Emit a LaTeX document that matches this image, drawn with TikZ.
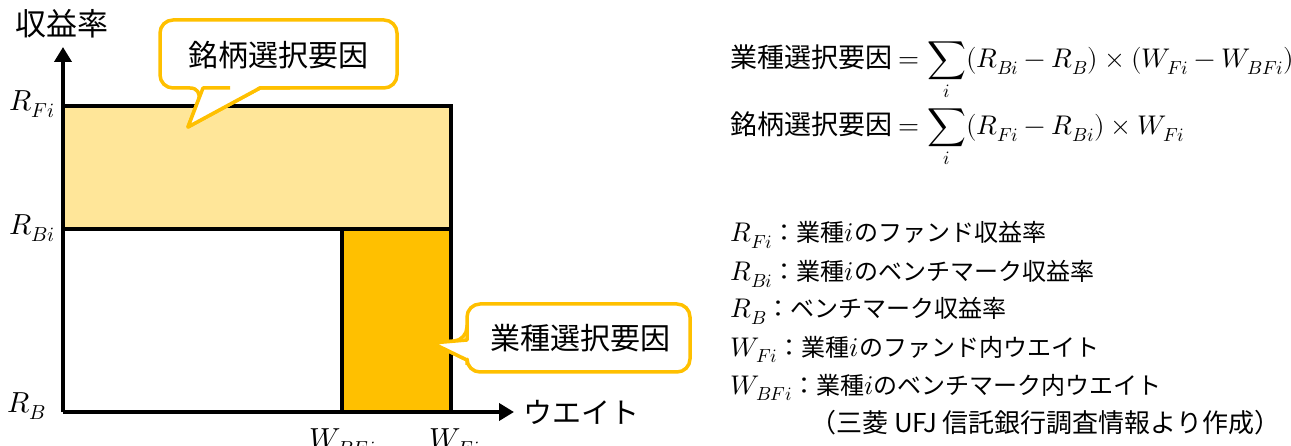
\documentclass[tikz,border=0pt]{standalone}
\usepackage{fontspec}
\usepackage{unicode-math}
\newfontfamily\jp{Noto Sans CJK JP}
\usetikzlibrary{arrows.meta}
\definecolor{gold}{HTML}{FFC000}
\definecolor{lightgold}{HTML}{FFE699}
\newcommand{\lm}[1]{{\fontsize{27}{29}\selectfont$#1$}}
\tikzset{
  thickline/.style={line width=4pt},
  axis/.style={line width=4pt,-{Triangle[length=15pt,width=17pt]}},
  callout/.style={draw=gold,line width=3.5pt,fill=white,line join=round},
  bigjp/.style={font=\jp\fontsize{30}{36}\selectfont},
  formjp/.style={font=\jp\fontsize{27}{32}\selectfont,anchor=base west},
  legjp/.style={font=\jp\fontsize{24}{29}\selectfont,anchor=base west},
  axlab/.style={font=\fontsize{29}{34}\selectfont},
}
\begin{document}
\begin{tikzpicture}[x=1pt,y=-1pt]
\useasboundingbox (0,0) rectangle (1291,446);
\clip (0,0) rectangle (1291,446);
% coordinates
\coordinate (O) at (63,412);
\coordinate (Ytop) at (63,47);
\coordinate (Xend) at (514,412);
\coordinate (TL) at (63,106);
\coordinate (TR) at (451,106);
\coordinate (ML) at (63,229);
\coordinate (MR) at (451,229);
\coordinate (MW) at (342,229);
\coordinate (BW) at (342,412);
\coordinate (BR) at (451,412);
% fills
\fill[lightgold] (TL) rectangle (MR);
\fill[gold] (MW) rectangle (BR);
% lines
\draw[thickline] (TL) -- (TR) -- (BR);
\draw[thickline] (ML) -- (MR);
\draw[thickline] (MW) -- (BW);
\draw[axis] (O) -- (Xend);
\draw[axis] (O) -- (Ytop);
% axis labels
\node[font=\jp\fontsize{31}{36}\selectfont] (ylab) at (62,24) {収益率};
\node[font=\jp\fontsize{29}{34}\selectfont,anchor=west] (xlab) at (520,412) {ウエイト};
\node[axlab] (rfi) at (32,104) {$R_{Fi}$};
\node[axlab] (rbi) at (32,228) {$R_{Bi}$};
\node[axlab] (rb) at (27,406) {$R_{B}$};
\node[axlab,anchor=base] (wbfi) at (343,448) {$W_{BFi}$};
\node[axlab,anchor=base] (wfi) at (455,448) {$W_{Fi}$};
% callout 1
\draw[callout,rounded corners=13pt] (203,88) [sharp corners] -- (188,127) -- (260,88) [rounded corners=13pt] -- (397,88) -- (397,20) -- (160,20) -- (160,88) -- cycle;
\draw[callout,rounded corners=13pt] (230,88) [sharp corners] -- (203,88) -- (188,127) -- (260,88) -- (290,88);
\node[bigjp] (c1) at (278,55) {銘柄選択要因};
% callout 2
\draw[callout,rounded corners=13pt] (467,340) [sharp corners] -- (432,343) -- (467,360) [rounded corners=13pt] -- (467,372) -- (690,372) -- (690,304) -- (467,304) -- cycle;
\draw[callout] (467,325) -- (467,340) -- (432,343) -- (467,360) -- (467,365);
\node[bigjp] (c2) at (580,338) {業種選択要因};
% formulas
\node[formjp] (f1) at (727,68) {業種選択要因 $=\displaystyle\sum_i (R_{Bi}-R_B)\times(W_{Fi}-W_{BFi})$};
\node[formjp] (f2) at (727,135) {銘柄選択要因 $=\displaystyle\sum_i (R_{Fi}-R_{Bi})\times W_{Fi}$};
% legend
\node[legjp] (l1) at (727,242) {\lm{R_{Fi}}：業種\lm{i}のファンド収益率};
\node[legjp] (l2) at (727,281) {\lm{R_{Bi}}：業種\lm{i}のベンチマーク収益率};
\node[legjp] (l3) at (727,318) {\lm{R_{B}}：ベンチマーク収益率};
\node[legjp] (l4) at (727,356) {\lm{W_{Fi}}：業種\lm{i}のファンド内ウエイト};
\node[legjp] (l5) at (727,394) {\lm{W_{BFi}}：業種\lm{i}のベンチマーク内ウエイト};
\node[legjp,font=\jp\fontsize{26}{30}\selectfont,anchor=base east] (src) at (1284,432) {（三菱 UFJ 信託銀行調査情報より作成）};
\end{tikzpicture}
\end{document}
